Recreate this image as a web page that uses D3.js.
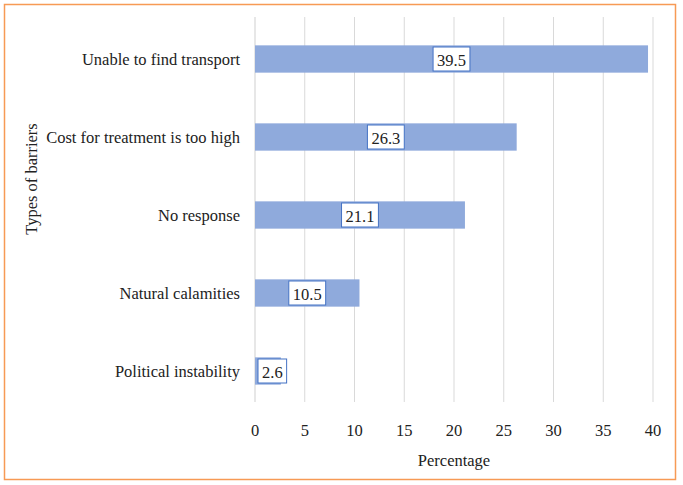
<!DOCTYPE html>
<html>
<head>
<meta charset="utf-8">
<script src="https://cdn.jsdelivr.net/npm/d3@7"></script>
<style>
  body { margin: 0; background: #fff; }
</style>
</head>
<body>
<script>
const barriers = ["Unable to find transport", "Cost for treatment is too high", "No response", "Natural calamities", "Political instability"];
const percentages = [39.5, 26.3, 21.1, 10.5, 2.6];
const xTicks = [0, 5, 10, 15, 20, 25, 30, 35, 40];

const W = 683, H = 485;
const fontSize = "16.5px";
const svg = d3.select("body").append("svg")
  .attr("width", W)
  .attr("height", H)
  .attr("font-family", "'Liberation Serif', 'Times New Roman', serif");

// frame
svg.append("rect")
  .attr("x", 4.5).attr("y", 4.5)
  .attr("width", 671).attr("height", 475)
  .attr("fill", "#fff")
  .attr("stroke", "#F79A55")
  .attr("stroke-width", 1.5);

const x = d3.scaleLinear().domain([0, 40]).range([255, 653]);
const y = d3.scaleBand().domain(barriers).range([20, 410]).paddingInner(0.65).paddingOuter(0.325);

const gridTop = 17, gridBottom = 402;

// grid lines
svg.append("g").selectAll("line")
  .data(xTicks)
  .enter().append("line")
  .attr("x1", d => x(d)).attr("x2", d => x(d))
  .attr("y1", gridTop).attr("y2", gridBottom)
  .attr("stroke", d => d === 0 ? "#cfcfcf" : "#d9d9d9")
  .attr("stroke-width", 1);

// tick labels
svg.append("g").selectAll("text")
  .data(xTicks)
  .enter().append("text")
  .attr("x", d => x(d))
  .attr("y", 436)
  .attr("text-anchor", "middle")
  .attr("fill", "#222")
  .style("font-size", fontSize)
  .text(d => d);

// category labels
svg.append("g").selectAll("text")
  .data(barriers)
  .enter().append("text")
  .attr("x", 240)
  .attr("y", d => y(d) + y.bandwidth() / 2)
  .attr("dy", "0.35em")
  .attr("text-anchor", "end")
  .attr("fill", "#222")
  .style("font-size", fontSize)
  .text(d => d);

// bars
const data = barriers.map((b, i) => ({ name: b, value: percentages[i] }));

svg.append("g").selectAll("rect")
  .data(data)
  .enter().append("rect")
  .attr("x", x(0))
  .attr("y", d => y(d.name))
  .attr("width", d => x(d.value) - x(0))
  .attr("height", y.bandwidth())
  .attr("fill", "#8FAADC");

// data labels
const lab = svg.append("g").selectAll("g")
  .data(data)
  .enter().append("g");

lab.each(function (d) {
  const g = d3.select(this);
  const t = g.append("text")
    .attr("text-anchor", "middle")
    .attr("dy", "0.35em")
    .attr("fill", "#222")
    .style("font-size", fontSize)
    .text(d.value.toFixed(1));
  const w = t.node().getComputedTextLength() + 8;
  const cx = Math.max((x(0) + x(d.value)) / 2, x(0) + 3 + w / 2);
  const cy = y(d.name) + y.bandwidth() / 2;
  g.insert("rect", "text")
    .attr("x", cx - w / 2)
    .attr("y", cy - 12)
    .attr("width", w)
    .attr("height", 24)
    .attr("fill", "#fff")
    .attr("stroke", "#4472C4")
    .attr("stroke-width", 1);
  t.attr("x", cx).attr("y", cy + 1);
});

// axis titles
svg.append("text")
  .attr("x", x(20))
  .attr("y", 466)
  .attr("text-anchor", "middle")
  .attr("fill", "#222")
  .style("font-size", fontSize)
  .text("Percentage");

svg.append("text")
  .attr("transform", "translate(37,179) rotate(-90)")
  .attr("text-anchor", "middle")
  .attr("fill", "#222")
  .style("font-size", fontSize)
  .text("Types of barriers");
</script>
</body>
</html>
